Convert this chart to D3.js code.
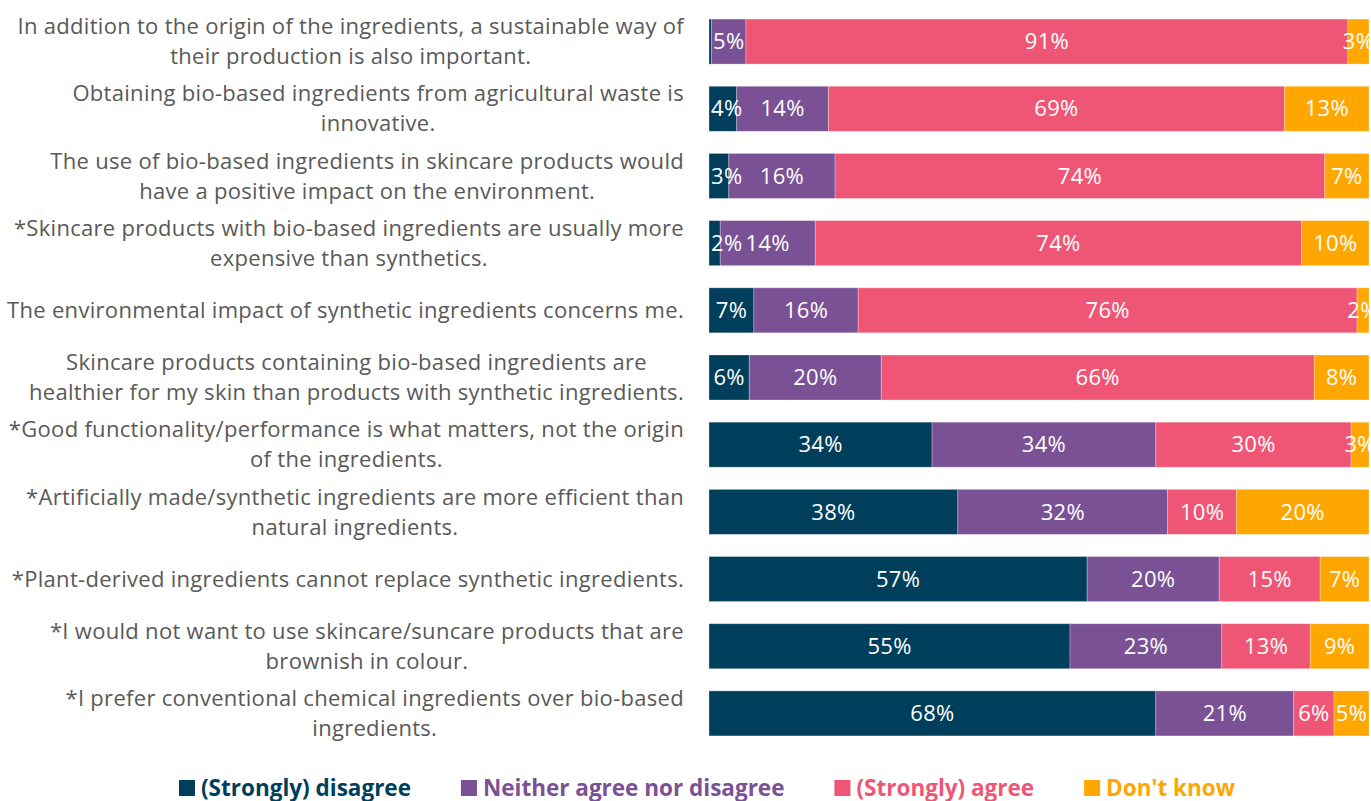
<!DOCTYPE html>
<html>
<head>
<meta charset="utf-8">
<script src="https://cdn.jsdelivr.net/npm/d3@7"></script>
<style>
html,body{margin:0;padding:0;background:#fff;overflow:hidden;}
svg{display:block;}
</style>
</head>
<body>
<svg id="chart" width="1371" height="801"></svg>
<script>
const categories = [
  ["In addition to the origin of the ingredients, a sustainable way of", "their production is also important."],
  ["Obtaining bio-based ingredients from agricultural waste is", "innovative."],
  ["The use of bio-based ingredients in skincare products would", "have a positive impact on the environment."],
  ["*Skincare products with bio-based ingredients are usually more", "expensive than synthetics."],
  ["The environmental impact of synthetic ingredients concerns me."],
  ["Skincare products containing bio-based ingredients are", "healthier for my skin than products with synthetic ingredients."],
  ["*Good functionality/performance is what matters, not the origin", "of the ingredients."],
  ["*Artificially made/synthetic ingredients are more efficient than", "natural ingredients."],
  ["*Plant-derived ingredients cannot replace synthetic ingredients."],
  ["*I would not want to use skincare/suncare products that are", "brownish in colour."],
  ["*I prefer conventional chemical ingredients over bio-based", "ingredients."]
];
const seriesNames = ["(Strongly) disagree", "Neither agree nor disagree", "(Strongly) agree", "Don't know"];
const disagree = [0.4, 4.2, 3.0, 1.7, 6.8, 6.1, 33.8, 37.7, 57.3, 54.7, 67.7];
const neither  = [5.2, 13.9, 16.1, 14.4, 15.8, 20.0, 33.9, 31.8, 20.0, 23.0, 20.9];
const agree    = [91.2, 69.1, 74.2, 73.7, 75.6, 65.6, 29.6, 10.4, 15.3, 13.4, 6.1];
const dontKnow = [3.2, 12.8, 6.7, 10.2, 1.8, 8.3, 2.7, 20.1, 7.4, 8.9, 5.3];
const colors = ["#003f5c", "#7a5195", "#ef5675", "#ffa600"];

const svg = d3.select("#chart");
const font = "'Open Sans', 'Noto Sans', sans-serif";

const x = d3.scaleLinear().domain([0, 100]).range([709, 1369]);
const y = d3.scaleBand().domain(d3.range(categories.length)).range([8, 747]).paddingInner(0.33).paddingOuter(0.165);

const seriesVals = [disagree, neither, agree, dontKnow];
const rows = categories.map((c, i) => {
  const o = {i};
  seriesNames.forEach((s, k) => o[s] = seriesVals[k][i]);
  return o;
});
const stack = d3.stack().keys(seriesNames)(rows);

const g = svg.append("g");
stack.forEach((layer, k) => {
  const lg = g.append("g");
  lg.selectAll("rect").data(layer).join("rect")
    .attr("x", d => x(d[0]))
    .attr("y", d => y(d.data.i))
    .attr("width", d => x(d[1]) - x(d[0]))
    .attr("height", y.bandwidth())
    .attr("fill", colors[k])
    .attr("stroke", "rgba(255,255,255,0.35)")
    .attr("stroke-width", 0.8);
});
stack.forEach((layer, k) => {
  g.append("g").selectAll("text").data(layer.filter(d => d[1] - d[0] >= 1)).join("text")
    .attr("x", d => (x(d[0]) + x(d[1])) / 2)
    .attr("y", d => y(d.data.i) + y.bandwidth() / 2)
    .attr("dy", "0.35em")
    .attr("text-anchor", "middle")
    .attr("fill", "#fff")
    .style("font-family", font)
    .style("font-size", "22px")
    .style("letter-spacing", "0.3px")
    .text(d => Math.round(d[1] - d[0]) + "%")
    .each(function(d) {
      const w = this.getComputedTextLength();
      const cx = (x(d[0]) + x(d[1])) / 2;
      if (cx - w / 2 < x(0) + 2) d3.select(this).attr("x", x(0) + 2 + w / 2);
    });
});

// category labels
const lineH = 30;
const lab = svg.append("g");
categories.forEach((lines, i) => {
  const cy = y(i) + y.bandwidth() / 2;
  const t = lab.append("text")
    .attr("text-anchor", "middle")
    .attr("fill", "#595959")
    .style("font-family", font)
    .style("font-size", "22px")
    .style("letter-spacing", "0.3px");
  lines.forEach((ln, j) => {
    t.append("tspan")
      .attr("x", 0)
      .attr("y", cy + (j - (lines.length - 1) / 2) * lineH)
      .attr("dy", "0.35em")
      .text(ln);
  });
  const widths = [];
  t.selectAll("tspan").each(function(){ widths.push(this.getComputedTextLength()); });
  const maxW = d3.max(widths);
  t.attr("transform", `translate(${684 - maxW / 2},0)`);
});

// legend
const leg = svg.append("g");
let lx = 0;
seriesNames.forEach((s, k) => {
  const it = leg.append("g").attr("transform", `translate(${lx},0)`);
  it.append("rect").attr("x", 0).attr("y", 780).attr("width", 16).attr("height", 16).attr("fill", colors[k]);
  const tx = it.append("text").attr("x", 22).attr("y", 788).attr("dy", "0.35em")
    .attr("fill", colors[k])
    .style("font-family", font).style("font-size", "22.5px").style("font-weight", "bold")
    .text(s);
  lx += 22 + tx.node().getComputedTextLength() + 50;
});
const totalW = lx - 50;
leg.attr("transform", `translate(${707 - totalW / 2},0)`);
</script>
</body>
</html>
